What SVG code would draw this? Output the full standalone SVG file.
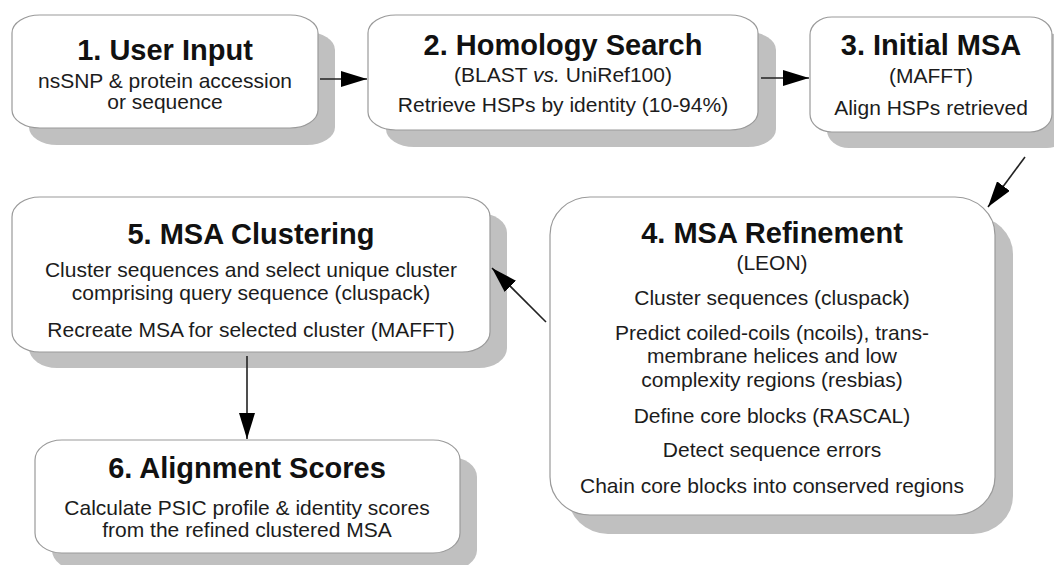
<svg xmlns="http://www.w3.org/2000/svg" width="1054" height="565" viewBox="0 0 1054 565">
  <defs>
    <marker id="head" viewBox="0 0 26 16" refX="26" refY="8" markerWidth="26" markerHeight="16" markerUnits="userSpaceOnUse" orient="auto">
      <path d="M0,0 L26,8 L0,16 Z" fill="#000"/>
    </marker>
  </defs>
  <style>
    .bg { fill: #ffffff; }
    .shadow { fill: #c0c0c0; }
    .box { fill: #ffffff; stroke: #9a9a9a; stroke-width: 1.2; }
    .title { font-family: "Liberation Sans", Arial, sans-serif; font-weight: bold; font-size: 29px; fill: #111; text-anchor: middle; }
    .body { font-family: "Liberation Sans", Arial, sans-serif; font-size: 21px; fill: #1c1c1c; text-anchor: middle; }
    .conn { stroke: #222; stroke-width: 1.6; fill: none; marker-end: url(#head); }
  </style>
  <rect class="bg" x="0" y="0" width="1054" height="565"/>

  <!-- step 1 -->
  <g id="node1">
    <rect class="shadow" x="29" y="32" width="306" height="113" rx="28" ry="18"/>
    <rect class="box" x="12" y="15" width="306" height="113" rx="28" ry="18"/>
    <text class="title" x="165" y="60">1. User Input</text>
    <text class="body" x="165" y="88">nsSNP &amp; protein accession</text>
    <text class="body" x="165" y="109">or sequence</text>
  </g>

  <!-- step 2 -->
  <g id="node2">
    <rect class="shadow" x="386" y="32" width="390" height="115" rx="28" ry="18"/>
    <rect class="box" x="368" y="15" width="390" height="115" rx="28" ry="18"/>
    <text class="title" x="563" y="55">2. Homology Search</text>
    <text class="body" x="563" y="82">(BLAST <tspan font-style="italic">vs.</tspan> UniRef100)</text>
    <text class="body" x="563" y="112">Retrieve HSPs by identity (10-94%)</text>
  </g>

  <!-- step 3 -->
  <g id="node3">
    <rect class="shadow" x="827" y="33" width="242" height="115" rx="22" ry="18"/>
    <rect class="box" x="810" y="17" width="242" height="115" rx="22" ry="18"/>
    <text class="title" x="931" y="55">3. Initial MSA</text>
    <text class="body" x="931" y="83">(MAFFT)</text>
    <text class="body" x="931" y="115">Align HSPs retrieved</text>
  </g>

  <!-- step 4 -->
  <g id="node4">
    <rect class="shadow" x="568" y="216" width="445" height="318" rx="40" ry="38"/>
    <rect class="box" x="550" y="197" width="445" height="318" rx="40" ry="38"/>
    <text class="title" x="772" y="243">4. MSA Refinement</text>
    <text class="body" x="772" y="270">(LEON)</text>
    <text class="body" x="772" y="305">Cluster sequences (cluspack)</text>
    <text class="body" x="772" y="340">Predict coiled-coils (ncoils), trans-</text>
    <text class="body" x="772" y="363">membrane helices and low</text>
    <text class="body" x="772" y="387">complexity regions (resbias)</text>
    <text class="body" x="772" y="423">Define core blocks (RASCAL)</text>
    <text class="body" x="772" y="457">Detect sequence errors</text>
    <text class="body" x="772" y="493">Chain core blocks into conserved regions</text>
  </g>

  <!-- step 5 -->
  <g id="node5">
    <rect class="shadow" x="29" y="213" width="478" height="155" rx="28" ry="20"/>
    <rect class="box" x="12" y="197" width="478" height="155" rx="28" ry="20"/>
    <text class="title" x="251" y="244">5. MSA Clustering</text>
    <text class="body" x="251" y="277">Cluster sequences and select unique cluster</text>
    <text class="body" x="251" y="300">comprising query sequence (cluspack)</text>
    <text class="body" x="251" y="337">Recreate MSA for selected cluster (MAFFT)</text>
  </g>

  <!-- step 6 -->
  <g id="node6">
    <rect class="shadow" x="52" y="457" width="425" height="113" rx="27" ry="20"/>
    <rect class="box" x="35" y="440" width="425" height="113" rx="27" ry="20"/>
    <text class="title" x="247" y="478">6. Alignment Scores</text>
    <text class="body" x="247" y="515">Calculate PSIC profile &amp; identity scores</text>
    <text class="body" x="247" y="537">from the refined clustered MSA</text>
  </g>

  <!-- flow connectors -->
  <g id="connectors">
    <line class="conn" x1="320" y1="79" x2="367" y2="79"/>
    <line class="conn" x1="761" y1="78" x2="809" y2="78"/>
    <line class="conn" x1="1025" y1="157" x2="988" y2="207"/>
    <line class="conn" x1="546" y1="322" x2="492" y2="268"/>
    <line class="conn" x1="247" y1="356" x2="247" y2="439"/>
  </g>
</svg>
